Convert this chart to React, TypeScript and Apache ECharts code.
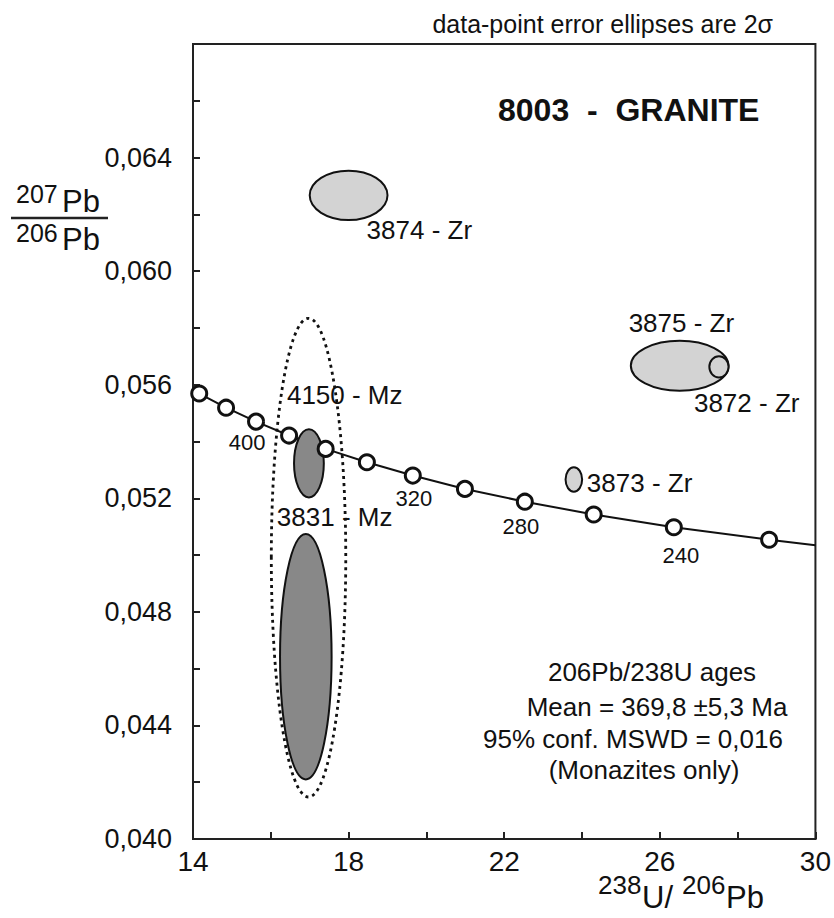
import React, { useEffect, useRef } from "react";
import * as echarts from "echarts";

// ---- Concordia (Tera-Wasserburg) points, ages in Ma ----
const CONCORDIA_AGES = [440, 420, 400, 380, 360, 340, 320, 300, 280, 260, 240, 220];
const CONCORDIA_X = [14.16, 14.85, 15.62, 16.47, 17.41, 18.47, 19.65, 20.99, 22.53, 24.3, 26.36, 28.81];
const CONCORDIA_Y = [0.05569, 0.05519, 0.0547, 0.05421, 0.05374, 0.05327, 0.0528, 0.05233, 0.05188, 0.05143, 0.05098, 0.05054];
const CURVE_START = [14.0, 0.05581];
const CURVE_END = [30.0, 0.05035];
const LABELLED_AGES = [400, 320, 280, 240];

// ---- Error ellipses (2 sigma) ----
const ELLIPSE_NAMES = ["3874 - Zr", "3875 - Zr", "3872 - Zr", "3873 - Zr", "4150 - Mz", "3831 - Mz", "mean"];
const ELLIPSE_CX = [18.0, 26.51, 27.52, 23.79, 16.98, 16.9, 16.97];
const ELLIPSE_CY = [0.06267, 0.05667, 0.05663, 0.05266, 0.05323, 0.04642, 0.04991];
const ELLIPSE_RX = [1.0, 1.255, 0.247, 0.213, 0.383, 0.663, 0.957];
const ELLIPSE_RY = [0.00087, 0.00088, 0.000375, 0.00043, 0.0012, 0.00432, 0.00843];

// ---- Axis tick labels ----
const X_LABELS = [14, 18, 22, 26, 30];
const Y_LABELS = ["0,040", "0,044", "0,048", "0,052", "0,056", "0,060", "0,064"];

// ---- Stats text ----
const STATS_LINES = ["206Pb/238U ages", "Mean = 369,8 ±5,3 Ma", "95% conf. MSWD = 0,016", "(Monazites only)"];

// ---- styling (not data) ----
const FONT = "'Liberation Sans', Arial, Helvetica, sans-serif";
const INK = "#111";
const LABEL_OFFSET: Record<string, number[]> = {
  "3874 - Zr": [18, 35],
  "3875 - Zr": [-51, -43],
  "3872 - Zr": [-25, 36],
  "3873 - Zr": [13, 3],
  "4150 - Mz": [-22, -68],
  "3831 - Mz": [-29, -140],
};
const AGE_LABEL_OFFSET: Record<number, number[]> = {
  400: [-9, 21],
  320: [1, 23],
  280: [-4, 25],
  240: [7, 28],
};
const STATS_POS = [
  [652, 672],
  [657, 707],
  [633, 739],
  [644, 770],
];

function txt(text: string, x: number, y: number, size: number, align = "left", weight = "normal") {
  return {
    type: "text",
    x,
    y,
    silent: true,
    style: {
      text,
      fill: INK,
      fontSize: size,
      fontFamily: FONT,
      fontWeight: weight,
      align,
      textAlign: align,
      verticalAlign: "middle",
      textVerticalAlign: "middle",
    },
  };
}

export default function App() {
  const ref = useRef<HTMLDivElement>(null);
  useEffect(() => {
    if (!ref.current) return;
    const chart = echarts.init(ref.current, null, { renderer: "svg" });

    const curveData = [CURVE_START, ...CONCORDIA_X.map((x, i) => [x, CONCORDIA_Y[i]]), CURVE_END];

    const pointData = CONCORDIA_X.map((x, i) => {
      const age = CONCORDIA_AGES[i];
      const labelled = LABELLED_AGES.includes(age);
      return {
        value: [x, CONCORDIA_Y[i]],
        label: labelled
          ? {
              show: true,
              formatter: String(age),
              position: "inside",
              offset: AGE_LABEL_OFFSET[age],
              fontSize: 22,
              fontFamily: FONT,
              color: INK,
            }
          : { show: false },
      };
    });

    const ellipseData = ELLIPSE_NAMES.map((n, i) => [ELLIPSE_CX[i], ELLIPSE_CY[i], ELLIPSE_RX[i], ELLIPSE_RY[i], i]);

    const renderEllipse = (params: any, api: any) => {
      const idx = api.value(4);
      const name = ELLIPSE_NAMES[idx];
      const c = api.coord([api.value(0), api.value(1)]);
      const s = api.size([api.value(2), api.value(3)], [api.value(0), api.value(1)]);
      const isMean = name === "mean";
      const isMz = name.endsWith("Mz");
      const children: any[] = [
        {
          type: "ellipse",
          shape: { cx: c[0], cy: c[1], rx: s[0], ry: s[1] },
          style: isMean
            ? { fill: "none", stroke: "#111", lineWidth: 2.8, lineDash: [3, 4] }
            : { fill: isMz ? "#888888" : "#d3d3d3", stroke: "#111", lineWidth: 2 },
        },
      ];
      if (!isMean) {
        const off = LABEL_OFFSET[name];
        children.push({
          type: "text",
          x: c[0] + off[0],
          y: c[1] + off[1],
          style: {
            text: name,
            fill: INK,
            fontSize: 26,
            fontFamily: FONT,
            align: "left",
            textAlign: "left",
            verticalAlign: "middle",
            textVerticalAlign: "middle",
          },
        });
      }
      return { type: "group", children };
    };

    const option: any = {
      animation: false,
      backgroundColor: "#fff",
      grid: {
        left: 193,
        right: 14,
        top: 44,
        bottom: 79,
        show: true,
        borderColor: "#222",
        borderWidth: 2,
        backgroundColor: "transparent",
      },
      xAxis: {
        type: "value",
        min: 14,
        max: 30,
        interval: 2,
        splitLine: { show: false },
        axisLine: { show: true, onZero: false, lineStyle: { color: "#222", width: 2 } },
        axisTick: { show: true, inside: true, length: 7, lineStyle: { color: "#222", width: 2 } },
        axisLabel: {
          margin: 8,
          fontSize: 28,
          fontFamily: "'Liberation Sans Narrow', 'Arial Narrow', " + FONT,
          color: INK,
          formatter: (v: number) => (X_LABELS.includes(Math.round(v)) ? String(Math.round(v)) : ""),
        },
      },
      yAxis: {
        type: "value",
        min: 0.04,
        max: 0.068,
        interval: 0.002,
        splitLine: { show: false },
        axisLine: { show: true, onZero: false, lineStyle: { color: "#222", width: 2 } },
        axisTick: { show: true, inside: true, length: 7, lineStyle: { color: "#222", width: 2 } },
        axisLabel: {
          margin: 21,
          fontSize: 27,
          fontFamily: FONT,
          color: INK,
          formatter: (v: number) => {
            const s = (Math.round(v * 1000) / 1000).toFixed(3).replace(".", ",");
            return Y_LABELS.includes(s) ? s : "";
          },
        },
      },
      series: [
        {
          type: "line",
          data: curveData,
          showSymbol: false,
          symbol: "none",
          lineStyle: { color: "#111", width: 2 },
          z: 1,
          silent: true,
        },
        {
          type: "custom",
          data: ellipseData,
          encode: { x: 0, y: 1 },
          renderItem: renderEllipse,
          z: 2,
          silent: true,
        },
        {
          type: "scatter",
          data: pointData,
          symbol: "circle",
          symbolSize: 15,
          itemStyle: { color: "#fff", borderColor: "#111", borderWidth: 3, opacity: 1 },
          z: 3,
          silent: true,
        },
      ],
      graphic: [
        txt("data-point error ellipses are 2σ", 773, 24, 25, "right"),
        txt("8003  -  GRANITE", 498, 110, 32, "left", "bold"),
        // y-axis title: 207Pb / 206Pb
        txt("207", 16, 194, 25),
        txt("Pb", 62, 201, 31),
        {
          type: "line",
          shape: { x1: 11, y1: 218, x2: 108, y2: 218 },
          style: { stroke: "#222", lineWidth: 2.5 },
        },
        txt("206", 16, 233, 25),
        txt("Pb", 62, 239, 31),
        // x-axis title: 238U/ 206Pb
        txt("238", 598, 885, 26),
        txt("U/", 642, 897, 31),
        txt("206", 682, 885, 26),
        txt("Pb", 726, 897, 31),
        ...STATS_LINES.map((l, i) => txt(l, STATS_POS[i][0], STATS_POS[i][1], 26, "center")),
      ],
    };

    chart.setOption(option);
    return () => chart.dispose();
  }, []);

  return (
    <div
      ref={ref}
      style={{ position: "absolute", left: 0, top: 0, width: 834, height: 918, background: "#fff" }}
    />
  );
}
